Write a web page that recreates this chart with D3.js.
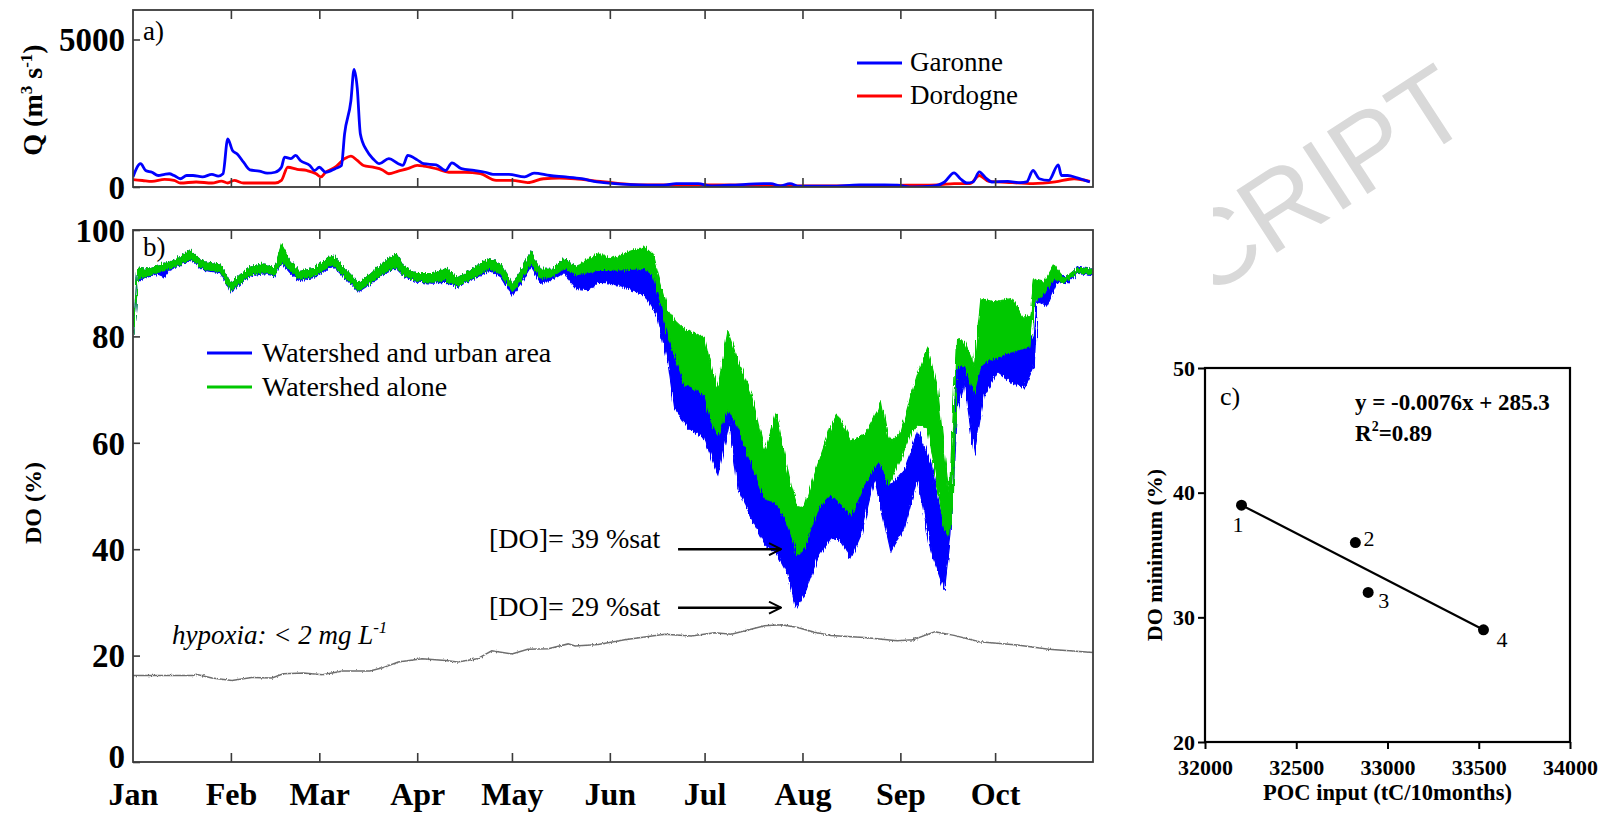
<!DOCTYPE html>
<html><head><meta charset="utf-8">
<script src="https://cdn.jsdelivr.net/npm/d3@7"></script>
<style>
body{margin:0;background:#fff}
text{font-family:"Liberation Serif","Times New Roman",serif}
</style>
</head><body>
<svg id="chart" width="1602" height="814"></svg>
<script>
// ---------- DATA ----------
const monthDays   = [0,31,59,90,120,151,181,212,243,273];
const monthLabels = ["Jan","Feb","Mar","Apr","May","Jun","Jul","Aug","Sep","Oct"];

// Panel a: discharge (m3/s), by day of year
const garonneDay = [0,2.4,4,6,8,10,11.5,13,15,17,19,22,25,27,28.5,30,31.5,33,35,37,40,42.5,45,47,48,50,51.5,53,56,57.5,59,61,64,66,67,69,70,71,72,74,76,78,81,84,85.5,87,90,92,96,99,101,104,108,111.5,114,119,124,127,132,137,142,147,158,168,172,179,183,189,200,202,205,208,211,221,230,238,242,247,253,257,260,262,264,266,268,270,272,277,281,283,285,287,290,293,294,296,299,303];
const garonneQ   = [340,790,560,500,390,430,450,390,280,390,390,340,430,370,450,1630,1240,1120,840,580,540,470,500,670,1010,960,1070,900,730,560,670,500,620,730,1800,2920,3990,3370,1800,1240,960,790,960,790,730,1070,920,790,750,560,820,620,560,500,430,430,340,470,390,340,280,170,80,60,115,115,35,60,115,115,35,115,25,25,75,75,60,0,25,170,480,280,135,170,510,310,170,190,145,170,560,280,225,750,390,390,310,170];
const dordogneDay = [0,3,6,10,13,15,20,25,28,30,32,35,40,45,47,49,52,55,58,59.5,61,64,67,69,71,73,76,79,81,84,87,90,92,96,100,105,110,115,120,125,130,135,140,148,160,180,200,211,230,245,255,260,265,268,271,275,285,292,298,303];
const dordogneQ   = [250,220,190,260,225,135,170,135,200,135,225,135,135,135,225,670,600,560,450,340,500,670,960,1050,900,730,670,580,450,540,620,730,710,620,500,500,450,225,225,150,280,300,280,190,75,75,60,35,35,60,75,115,115,390,190,170,115,170,280,190];
const qTicks = [0,5000];

// Panel b: DO saturation (%) envelopes of the tidal signal
const greenDay   = [0,0.7,1.5,4,7.5,10,12,15,18,20,22.5,27.6,31,34,37.6,41.4,45,47,50,52.6,57.6,63.3,66.4,71.4,75,79.6,83.3,85.8,90,95,99,102.8,107.8,112.8,116.5,120,122.8,126,129,132.6,136.6,140.4,144,147.3,151.5,156.8,162,164.7,167.3,169.4,171.5,174.7,178,181,183.1,185.2,188.4,191.6,195.8,200,203.7,206.3,208.4,210.5,212.6,216.9,221,223.2,227.4,231.6,235.8,236.9,239,240,243.2,246.4,248.5,251.6,254.8,256.9,258.5,259.8,260.8,263.2,266.4,268.5,272.7,278,282.2,284,285.4,288.5,291.7,294.8,299,304];
const greenUpper = [81.5,86,92.8,92.6,93.3,93.6,94,95,96.2,95,94,93.6,90,91.6,93.2,93.6,93,97.3,94,92.2,92.8,95.3,93.2,90,91.6,94,95.5,93,91.8,91.8,92.8,91,92.8,94.6,93.6,89.8,92.2,96,92.6,92.6,94.6,93,94.5,95.5,94.6,95.9,96.8,95.3,89.6,85,83,81.2,80.5,79.6,74,70.3,81,75.3,69,58.4,65.6,57.8,52,48,47.8,56,63,65.3,60.3,61.5,66,68,61,60.3,62.1,69,73,77.8,70,58,50,66,79.6,79,74.6,87.1,86.5,87.1,83.4,84,90.6,90.2,93.4,90.9,92.8,92.6];
const greenLower = [80.5,84,91,91.2,92,92.4,92.8,93.6,94.5,93.8,92.6,92.2,88.6,90.2,91.6,92,91.6,94,92.4,90.8,91.4,93.5,91.6,88.6,90,92,93,91.5,90.4,90.2,90.6,89.4,91,92.8,91.8,88.6,90.5,93.8,91,91.2,92.8,91.6,92,92.4,92.4,92.6,92.8,91.5,86,80,76.5,71,70,69,64,61.5,66.5,63,56.5,49.6,48.6,46,42.8,39,40.3,47.8,50.3,49,46.5,52.1,56.5,56,52.1,53,57.1,62,63.4,62.8,52,44,42,50,74,74.6,69.6,74.6,75.9,77.1,77.8,78,86.5,88,91,90,92,91.6];
const blueDay   = [0,0.7,1.5,4,7.5,10,12,15,18,20,22.5,27.6,31,34,37.6,41.4,45,47,50,52.6,57.6,63.3,66.4,71.4,75,79.6,83.3,85.8,90,95,99,102.8,107.8,112.8,116.5,120,122.8,126,129,132.6,136.6,140.4,144,147.3,151.5,156.8,162,166.3,169.4,171.5,175.8,181,184.2,185.2,189,191.6,195.8,200,204.2,207.4,210,212.6,216.9,221,224.2,227.4,230.6,234.8,240,244.3,248.5,252.7,256.9,259,261.1,263.2,266.4,269.5,273.8,278,282.2,285.4,286.4,289.6,292.7,295.9,299,304];
const blueUpper = [81.5,86,92.8,92.6,93.3,93.6,94,95,96.2,95,94,93.6,90,91.6,93.2,93.6,93,97,94,92.2,92.8,95.3,93.2,90,91.6,94,95.5,93,91.8,91.8,92.8,91,92.8,94.6,93.6,89.8,92.2,96,92.6,92.6,94.6,93,93.2,93.5,93.2,93,93,90,84,80,74,72,65,63,70,66,60,52,50,46,42,42,50,53,50,48,54,58,52,55,62,56,44,48,74,76,70,76,78,78,78,80,88,89,92,91,93,92.6];
const blueLower = [80.5,84,90.5,91,91.8,91.2,92.6,93.5,94.3,93.6,92.4,92,88.4,90,91.4,91.8,91.4,93.8,91.8,90.5,91.2,93.2,91.4,88.4,89.8,91.8,92.8,91.3,90.2,90,90.2,89.2,90.8,92.4,91.2,87.8,90,93.2,90,90.6,92,89,88.8,90.2,90,89,87.8,83.4,75.3,66.5,62.8,60.9,55.3,54,64,51.5,45.9,40.9,39,35.3,29,31.5,38.4,42.1,41.5,38.4,42.8,53.4,39.6,44,53.4,39.6,32.4,42.8,66.5,71.5,57.8,69,73.4,71.5,70.3,74.6,86.5,85.9,90.2,89.9,91.9,91.4];
// hypoxia threshold (2 mg/L expressed in % saturation)
const hypoxiaDay = [0,19,20,25,31.3,37.6,44,47.6,54,60,66.4,75,79,84,91.5,99,102.8,109,113.6,120,125,131.5,137.8,140,147.3,155.7,168.4,176.8,184.2,189.5,200,205.3,210.5,215.8,221,231.6,242,247,254,260,268,280,290,304];
const hypoxiaDO  = [16.25,16.25,16.5,15.8,15.3,15.9,15.8,16.6,16.75,16.4,17.1,17.1,17.7,18.8,19.4,19.1,18.8,19.4,20.9,20.3,21.2,21.3,22.2,21.8,22.1,23,24,23.7,24.3,24,25.6,25.8,25.3,24.4,23.8,23.4,22.8,23,24.5,23.8,22.6,22,21.2,20.6];
const doTicks = [0,20,40,60,80,100];
const annotLabels = ["[DO]= 39 %sat","[DO]= 29 %sat"];
const annotLevels = [40,29];
const annotFromDay = 172.6, annotToDay = 205.2;

// Panel c
const pocInput    = [32200,32824,32894,33526];
const doMinimum   = [39,36,32,29];
const pointLabels = ["1","2","3","4"];
const fitX = [32200,33526];
const fitY = [39,29];
const pocTicks = [32000,32500,33000,33500,34000];
const doMinTicks = [20,30,40,50];

// ---------- LAYOUT ----------
const svg = d3.select("#chart");
const A = {l:133,r:1093,t:10,b:187};
const B = {l:133,r:1093,t:230,b:762};
const C = {l:1205,r:1570,t:368,b:742};
const axisCol = "#3a3a3a";

const defs = svg.append("defs");
defs.append("clipPath").attr("id","wmclip").append("rect").attr("x",1213).attr("y",0).attr("width",400).attr("height",340);
defs.append("clipPath").attr("id","clipA").append("rect").attr("x",A.l).attr("y",A.t).attr("width",A.r-A.l).attr("height",A.b-A.t);
defs.append("clipPath").attr("id","clipB").append("rect").attr("x",B.l).attr("y",B.t).attr("width",B.r-B.l).attr("height",B.b-B.t);
defs.append("marker").attr("id","arr").attr("viewBox","0 0 14 14").attr("refX",13).attr("refY",7)
  .attr("markerWidth",14).attr("markerHeight",14).attr("markerUnits","userSpaceOnUse").attr("orient","auto")
  .append("path").attr("d","M1,1 L13,7 L1,13").attr("fill","none").attr("stroke","#000").attr("stroke-width",2);
// rough "tidal" texture for the DO bands
const rough = defs.append("filter").attr("id","rough").attr("x","-2%").attr("y","-5%").attr("width","104%").attr("height","110%");
rough.append("feTurbulence").attr("type","fractalNoise").attr("baseFrequency","0.9 0.04").attr("numOctaves",2).attr("seed",3).attr("result","n");
rough.append("feDisplacementMap").attr("in","SourceGraphic").attr("in2","n").attr("scale",6).attr("xChannelSelector","B").attr("yChannelSelector","R");
const rough2 = defs.append("filter").attr("id","rough2").attr("x","-2%").attr("y","-20%").attr("width","104%").attr("height","140%");
rough2.append("feTurbulence").attr("type","fractalNoise").attr("baseFrequency","0.8 0.3").attr("numOctaves",1).attr("seed",7).attr("result","n");
rough2.append("feDisplacementMap").attr("in","SourceGraphic").attr("in2","n").attr("scale",3).attr("xChannelSelector","B").attr("yChannelSelector","R");

// watermark (partial)
svg.append("g").attr("clip-path","url(#wmclip)")
  .append("text").text("CRIPT")
  .attr("transform","translate(1204,300) rotate(-33)")
  .style("font-family","'Liberation Sans',Arial,sans-serif")
  .style("font-size","108px").attr("fill","#d9d9d9");

const x = d3.scaleLinear().domain([0,304]).range([A.l,A.r]);

function frame(P, yScale, yTicks, showMonths){
  const g = svg.append("g");
  const top = g.append("g").attr("transform",`translate(0,${P.t})`)
    .call(d3.axisTop(x).tickValues(monthDays.slice(1)).tickSize(-9).tickFormat(""));
  const bot = g.append("g").attr("transform",`translate(0,${P.b})`)
    .call(d3.axisBottom(x).tickValues(showMonths?monthDays:monthDays.slice(1)).tickSize(-9).tickPadding(19)
      .tickFormat((d)=> showMonths ? monthLabels[monthDays.indexOf(d)] : ""));
  const left = g.append("g").attr("transform",`translate(${P.l},0)`)
    .call(d3.axisLeft(yScale).tickValues(yTicks).tickSize(-7).tickPadding(8).tickFormat(d3.format("d")));
  [top,bot,left].forEach(a=>{
    a.select(".domain").remove();
    a.selectAll("line").attr("stroke",axisCol).attr("stroke-width",1.6);
  });
  bot.selectAll("text").attr("fill","#000").style("font-size","32px").style("font-weight","bold").attr("dy","0.75em");
  left.selectAll("text").attr("fill","#000").style("font-size","33px").style("font-weight","bold").attr("dy","0.34em");
  bot.selectAll(".tick").filter(d=>d===0).select("line").remove();
  if (showMonths) left.selectAll(".tick").filter(d=>d===0).select("text").attr("dy","0.18em");
  g.append("rect").attr("x",P.l).attr("y",P.t).attr("width",P.r-P.l).attr("height",P.b-P.t)
    .attr("fill","none").attr("stroke",axisCol).attr("stroke-width",1.8);
  return g;
}

// ---------- PANEL A ----------
const yA = d3.scaleLinear().domain([0,6000]).range([A.b,A.t]);
const gA = svg.append("g").attr("clip-path","url(#clipA)");
const lineA = (days, vals) => d3.line().curve(d3.curveMonotoneX).x((d,i)=>x(days[i])).y((d,i)=>yA(vals[i]))(vals);
gA.append("path").attr("d",lineA(dordogneDay,dordogneQ)).attr("fill","none").attr("stroke","#ff0000").attr("stroke-width",2.8).attr("stroke-linejoin","round");
gA.append("path").attr("d",lineA(garonneDay,garonneQ)).attr("fill","none").attr("stroke","#0000ff").attr("stroke-width",2.8).attr("stroke-linejoin","round");
frame(A, yA, qTicks, false);
svg.append("text").attr("x",143).attr("y",40).text("a)").style("font-size","27px");
[["Garonne","#0000ff"],["Dordogne","#ff0000"]].forEach((d,i)=>{
  const yy = 63 + i*33;
  svg.append("line").attr("x1",857).attr("x2",902).attr("y1",yy).attr("y2",yy).attr("stroke",d[1]).attr("stroke-width",3.2);
  svg.append("text").attr("x",910).attr("y",yy+8).text(d[0]).style("font-size","27px");
});
const qLab = svg.append("text").attr("transform","translate(42,100) rotate(-90)").attr("text-anchor","middle")
  .style("font-size","28px").style("font-weight","bold");
qLab.append("tspan").text("Q (m");
qLab.append("tspan").text("3").attr("dy","-10").style("font-size","17px");
qLab.append("tspan").text(" s").attr("dy","10");
qLab.append("tspan").text("-1").attr("dy","-10").style("font-size","17px");
qLab.append("tspan").text(")").attr("dy","10");

// ---------- PANEL B ----------
const yB = d3.scaleLinear().domain([0,100]).range([B.b,B.t]);
const gB = svg.append("g").attr("clip-path","url(#clipB)");
const band = (days, hi, lo) => d3.area().x((d,i)=>x(days[i])).y0((d,i)=>yB(lo[i])).y1((d,i)=>yB(hi[i]))(hi);
const bands = gB.append("g").attr("filter","url(#rough)");
bands.append("path").attr("d",band(blueDay,blueUpper,blueLower)).attr("fill","#0000ff").attr("stroke","#0000ff").attr("stroke-width",1.2);
bands.append("path").attr("d",band(greenDay,greenUpper,greenLower)).attr("fill","#00c800").attr("stroke","#00c800").attr("stroke-width",1.2);
gB.append("path").attr("d", d3.line().x((d,i)=>x(hypoxiaDay[i])).y((d,i)=>yB(hypoxiaDO[i]))(hypoxiaDO))
  .attr("filter","url(#rough2)")
  .attr("fill","none").attr("stroke","#555").attr("stroke-width",1.5).attr("opacity",0.85);
frame(B, yB, doTicks, true);
svg.append("text").attr("x",143).attr("y",256).text("b)").style("font-size","27px");
[["Watershed and urban area","#0000ff"],["Watershed alone","#00c800"]].forEach((d,i)=>{
  const yy = 353 + i*34;
  svg.append("line").attr("x1",207).attr("x2",252).attr("y1",yy).attr("y2",yy).attr("stroke",d[1]).attr("stroke-width",3.2);
  svg.append("text").attr("x",262).attr("y",yy+9).text(d[0]).style("font-size","28px");
});
annotLabels.forEach((lab,i)=>{
  const yy = yB(annotLevels[i]);
  svg.append("text").attr("x",489).attr("y", i===0 ? yy-1 : yy+8).text(lab).style("font-size","28px");
  svg.append("line").attr("x1",x(annotFromDay)).attr("x2",x(annotToDay)).attr("y1",yy).attr("y2",yy)
    .attr("stroke","#000").attr("stroke-width",2.4).attr("marker-end","url(#arr)");
});
const hyp = svg.append("text").attr("x",172).attr("y",644).style("font-size","27px").style("font-style","italic");
hyp.append("tspan").text("hypoxia: < 2 mg L");
hyp.append("tspan").text("-1").attr("dy","-11").style("font-size","17px");
svg.append("text").attr("transform","translate(41,503) rotate(-90)").attr("text-anchor","middle")
  .text("DO (%)").style("font-size","24px").style("font-weight","bold");

// ---------- PANEL C ----------
const xC = d3.scaleLinear().domain([32000,34000]).range([C.l,C.r]);
const yC = d3.scaleLinear().domain([20,50]).range([C.b,C.t]);
const cx = svg.append("g").attr("transform",`translate(0,${C.b})`)
  .call(d3.axisBottom(xC).tickValues(pocTicks).tickSize(7).tickPadding(10).tickFormat(d3.format("d")));
const cy = svg.append("g").attr("transform",`translate(${C.l},0)`)
  .call(d3.axisLeft(yC).tickValues(doMinTicks).tickSize(7).tickPadding(3).tickFormat(d3.format("d")));
[cx,cy].forEach(a=>{
  a.select(".domain").remove();
  a.selectAll("line").attr("stroke","#000").attr("stroke-width",2);
  a.selectAll("text").attr("fill","#000").style("font-size","22px").style("font-weight","bold");
});
svg.append("rect").attr("x",C.l).attr("y",C.t).attr("width",C.r-C.l).attr("height",C.b-C.t)
  .attr("fill","none").attr("stroke","#000").attr("stroke-width",2.2);
svg.append("path").attr("d", d3.line().x((d,i)=>xC(fitX[i])).y((d,i)=>yC(fitY[i]))(fitX))
  .attr("stroke","#000").attr("stroke-width",2.2).attr("fill","none");
svg.selectAll(".pt").data(pocInput).enter().append("circle")
  .attr("cx",(d)=>xC(d)).attr("cy",(d,i)=>yC(doMinimum[i])).attr("r",5.5).attr("fill","#000");
const labOff = [[-9,27],[8,3],[10,16],[13,17]];
pointLabels.forEach((l,i)=>{
  svg.append("text").attr("x",xC(pocInput[i])+labOff[i][0]).attr("y",yC(doMinimum[i])+labOff[i][1])
    .text(l).style("font-size","22px");
});
svg.append("text").attr("x",1220).attr("y",405).text("c)").style("font-size","26px");
svg.append("text").attr("x",1355).attr("y",410).text("y = -0.0076x + 285.3").style("font-size","23px").style("font-weight","bold");
const r2 = svg.append("text").attr("x",1355).attr("y",441).style("font-size","23px").style("font-weight","bold");
r2.append("tspan").text("R");
r2.append("tspan").text("2").attr("dy","-10").style("font-size","14px");
r2.append("tspan").text("=0.89").attr("dy","10");
svg.append("text").attr("x",(C.l+C.r)/2).attr("y",800).attr("text-anchor","middle")
  .text("POC input (tC/10months)").style("font-size","22.5px").style("font-weight","bold");
svg.append("text").attr("transform",`translate(1162,${(C.t+C.b)/2}) rotate(-90)`).attr("text-anchor","middle")
  .text("DO minimum (%)").style("font-size","22px").style("font-weight","bold");
</script>
</body></html>
